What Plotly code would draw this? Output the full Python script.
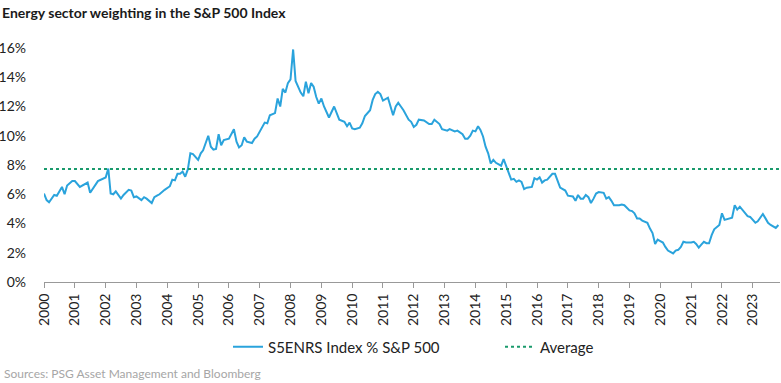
import plotly.graph_objects as go

# ---- data ----
months = [
    "2000-01","2000-02","2000-03","2000-05","2000-06","2000-08","2000-09","2000-10","2000-12",
    "2001-01","2001-03","2001-06","2001-07","2001-08","2001-10",
    "2002-01","2002-02","2002-03","2002-04","2002-05","2002-07","2002-08","2002-10","2002-11","2002-12",
    "2003-01","2003-03","2003-04","2003-05","2003-07","2003-08","2003-09","2003-10","2003-12",
    "2004-02","2004-03","2004-04","2004-05","2004-06","2004-07","2004-08","2004-09","2004-10","2004-11",
    "2005-01","2005-02","2005-03","2005-05","2005-06","2005-07","2005-08","2005-09","2005-10","2005-11","2005-12",
    "2006-01","2006-03","2006-04","2006-05","2006-06","2006-07","2006-08","2006-10","2006-11","2006-12",
    "2007-01","2007-03","2007-04","2007-05","2007-07","2007-08","2007-09","2007-10","2007-11","2007-12",
    "2008-01","2008-02","2008-03","2008-04","2008-05","2008-06","2008-07","2008-08","2008-09","2008-10","2008-11","2008-12",
    "2009-01","2009-02","2009-03","2009-04","2009-06","2009-07","2009-08","2009-10","2009-11","2009-12",
    "2010-01","2010-02","2010-04","2010-05","2010-06","2010-08","2010-09","2010-10","2010-11","2010-12",
    "2011-01","2011-03","2011-04","2011-05","2011-06","2011-07","2011-08","2011-09","2011-11","2011-12",
    "2012-01","2012-02","2012-03","2012-04","2012-05","2012-07","2012-08","2012-09","2012-11","2012-12",
    "2013-02","2013-03","2013-04","2013-05","2013-06","2013-08","2013-09","2013-10","2013-11","2013-12",
    "2014-01","2014-02","2014-03","2014-04","2014-05","2014-06","2014-07","2014-08","2014-09","2014-11","2014-12",
    "2015-01","2015-02","2015-03","2015-04","2015-05","2015-06","2015-07","2015-08","2015-09","2015-11","2015-12",
    "2016-01","2016-02","2016-03","2016-04","2016-05","2016-07","2016-08","2016-09","2016-10","2016-12",
    "2017-01","2017-03","2017-04","2017-05","2017-06","2017-07","2017-08","2017-09","2017-10","2017-11","2017-12",
    "2018-01","2018-03","2018-04","2018-05","2018-06","2018-07","2018-09","2018-10","2018-11","2018-12",
    "2019-01","2019-02","2019-03","2019-04","2019-05","2019-06","2019-07","2019-08","2019-09","2019-10","2019-11","2019-12",
    "2020-01","2020-02","2020-03","2020-04","2020-06","2020-07","2020-08","2020-09","2020-10","2020-11",
    "2021-01","2021-02","2021-03","2021-04","2021-05","2021-06","2021-07","2021-08","2021-09","2021-10","2021-12",
    "2022-01","2022-02","2022-03","2022-05","2022-06","2022-07","2022-08","2022-09","2022-10","2022-11","2022-12",
    "2023-02","2023-03","2023-04","2023-05","2023-06","2023-07","2023-08","2023-09","2023-10","2023-11",
]
energy_weight = [
    6.05,5.6,5.45,5.95,5.9,6.5,6.0,6.6,6.9,
    6.9,6.5,6.8,6.1,6.4,6.9,
    7.15,7.75,6.05,6.0,6.2,5.7,5.95,6.3,6.25,5.8,
    5.85,5.6,5.8,5.7,5.4,5.8,5.9,6.0,6.3,
    6.55,7.0,6.95,7.4,7.4,7.55,7.2,7.7,8.8,8.75,
    8.35,8.8,9.0,10.0,9.25,9.05,9.1,10.1,9.35,9.7,9.75,
    9.8,10.45,9.6,9.2,9.35,9.9,9.6,9.5,9.8,9.95,
    10.3,10.9,10.85,11.4,11.55,12.55,12.0,13.2,12.95,13.6,
    13.85,15.9,13.75,13.35,12.95,12.7,13.7,12.9,13.6,13.35,12.65,12.2,
    12.55,12.0,11.6,11.25,12.0,11.55,11.1,10.95,10.65,10.9,
    10.5,10.45,10.55,10.85,11.35,11.75,12.45,12.85,13.0,12.85,
    12.4,12.6,12.0,11.4,12.0,12.25,12.0,11.75,11.1,10.95,
    10.6,10.75,11.1,11.1,11.05,10.8,10.8,11.1,10.8,10.45,
    10.35,10.45,10.35,10.3,10.35,10.1,9.8,9.8,10.0,10.35,
    10.3,10.65,10.4,9.95,9.25,8.8,8.1,8.35,8.15,7.95,8.4,
    7.9,7.55,7.0,7.05,6.85,6.95,6.85,6.35,6.45,6.5,7.1,
    7.0,7.15,6.8,6.95,7.0,7.4,7.4,6.95,6.45,6.25,
    5.9,5.85,5.55,5.95,5.7,5.7,5.95,5.8,5.4,5.7,6.05,
    6.15,6.1,5.7,5.8,5.55,5.25,5.25,5.3,5.25,5.1,
    4.9,4.85,4.7,4.35,4.35,4.2,4.15,4.05,3.65,3.35,2.6,2.9,
    2.8,2.7,2.4,2.15,1.95,2.15,2.2,2.4,2.75,2.7,
    2.7,2.75,2.6,2.35,2.55,2.75,2.65,2.65,3.2,3.6,3.9,
    4.7,4.25,4.3,4.4,5.25,4.95,5.15,4.95,4.75,4.5,4.45,
    4.05,4.15,4.4,4.65,4.35,4.05,3.9,3.8,3.7,3.9,
]
average_weight = 7.73
series_name = "S5ENRS Index % S&P 500"
average_name = "Average"
y_ticks = [0, 2, 4, 6, 8, 10, 12, 14, 16]
y_tick_labels = [f"{v}%" for v in y_ticks]

x_start = "2000-01-01"
x_end = "2023-11-20"

fig = go.Figure()
fig.add_trace(go.Scatter(
    x=months, y=energy_weight, mode="lines", name=series_name,
    line=dict(color="#2aa3dc", width=2),
))
fig.add_trace(go.Scatter(
    x=[x_start, x_end], y=[average_weight, average_weight], mode="lines", name=average_name,
    line=dict(color="#1a9a6c", width=2, dash="dot"),
))

font_family = "Lato, 'Open Sans', sans-serif"

fig.update_layout(
    width=781, height=383,
    margin=dict(l=44, r=1, t=48, b=101, autoexpand=False),
    paper_bgcolor="white", plot_bgcolor="white",
    font=dict(family=font_family, size=14, color="#222222"),
    title=dict(
        text="<b>Energy sector weighting in the S&P 500 Index</b>",
        xref="container", yref="container", x=0, xanchor="left", pad=dict(l=2),
        y=1 - 13 / 383, yanchor="middle",
        font=dict(family=font_family, size=14, color="#1a1a1a"),
    ),
    showlegend=True,
    legend=dict(
        orientation="h", x=(228 - 44) / 736, xanchor="left", y=-0.278, yanchor="middle",
        font=dict(family=font_family, size=15, color="#222222"),
        entrywidth=227, entrywidthmode="pixels",
        bgcolor="rgba(0,0,0,0)",
    ),
    xaxis=dict(
        type="date", range=[x_start, x_end], automargin=False,
        tick0="2000-01-01", dtick="M12", tickformat="%Y",
        tickangle=-90, ticks="outside", ticklen=5, tickcolor="#999999",
        showline=True, linecolor="#999999", linewidth=1,
        showgrid=False, zeroline=False,
        tickfont=dict(family=font_family, size=14, color="#222222"),
    ),
    yaxis=dict(
        range=[0, 16], tickvals=y_ticks, ticktext=y_tick_labels, automargin=False,
        showgrid=False, zeroline=False, showline=False,
        ticks="", ticklabelstandoff=17,
        tickfont=dict(family=font_family, size=14, color="#222222"),
    ),
    annotations=[dict(
        text="Sources: PSG Asset Management and Bloomberg",
        xref="paper", yref="paper", x=(2 - 44) / 736, xanchor="left",
        y=(282 - 373) / 234, yanchor="middle", showarrow=False,
        font=dict(family=font_family, size=12, color="#a6a6a6"),
    )],
)

fig.write_html(
    "out.html",
    config={"displayModeBar": False},
    post_script="document.body.style.margin='0';document.body.style.overflow='hidden';",
)
